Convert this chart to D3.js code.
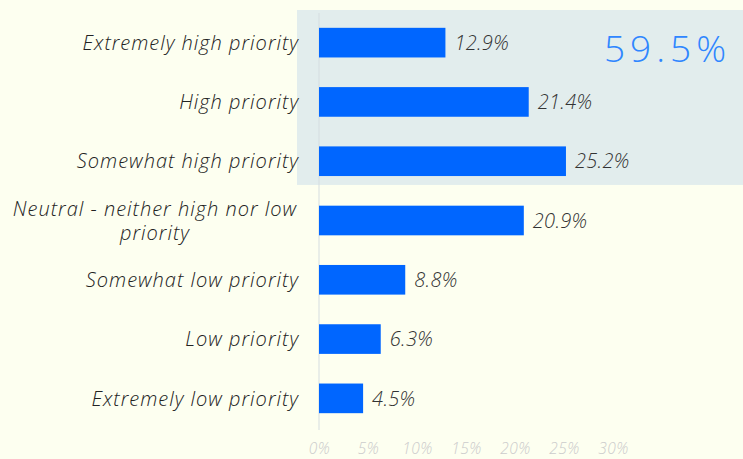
<!DOCTYPE html>
<html>
<head>
<meta charset="utf-8">
<script src="https://cdn.jsdelivr.net/npm/d3@7"></script>
<style>
  html, body { margin: 0; padding: 0; background: #fdfff0; }
  svg { display: block; }
</style>
</head>
<body>
<div class="chart"></div>
<script>
// answers, top to bottom
var categories = [
    'Extremely high priority',
    'High priority',
    'Somewhat high priority',
    'Neutral - neither high nor low priority',
    'Somewhat low priority',
    'Low priority',
    'Extremely low priority'
];
var shares = [ 12.9 , 21.4 , 25.2 , 20.9 , 8.8 , 6.3 , 4.5 ];
var tickValues = [ 0 , 5 , 10 , 15 , 20 , 25 , 30 ];
var highlightCount = 3;
var highlightLabel = '59.5%';

var width = 743, height = 459;
var font = '"Open Sans", sans-serif';

var svg = d3.select( '.chart' )
    .append( 'svg' )
    .attr( 'width' , width )
    .attr( 'height' , height );

var x = d3.scaleLinear().domain( [ 0 , 30 ] ).range( [ 319 , 613 ] );
var y = d3.scaleBand().domain( categories ).range( [ 13 , 428 ] ).paddingInner( 0.5 ).paddingOuter( 0.25 );

// shaded box behind the "high" answers
var boxTop = y( categories[ 0 ] ) - y.step() * 0.3;
var boxBottom = y( categories[ highlightCount - 1 ] ) + y.bandwidth() + y.step() * 0.15;
svg.append( 'rect' )
    .attr( 'x' , 297 )
    .attr( 'y' , boxTop )
    .attr( 'width' , width - 297 )
    .attr( 'height' , boxBottom - boxTop )
    .attr( 'fill' , '#e2eded' );

// vertical baseline
svg.append( 'line' )
    .attr( 'x1' , x( 0 ) ).attr( 'x2' , x( 0 ) )
    .attr( 'y1' , 13 ).attr( 'y2' , 430 )
    .attr( 'stroke' , '#d5dde0' )
    .attr( 'stroke-width' , 1 );

svg.selectAll( '.bar' )
    .data( shares )
    .enter()
        .append( 'rect' )
        .attr( 'class' , 'bar' )
        .attr( 'x' , x( 0 ) )
        .attr( 'y' , function( d , i ){ return y( categories[ i ] ) })
        .attr( 'width' , function( d ){ return x( d ) - x( 0 ) })
        .attr( 'height' , y.bandwidth() )
        .attr( 'fill' , '#0066ff' );

svg.selectAll( '.val' )
    .data( shares )
    .enter()
        .append( 'text' )
        .attr( 'class' , 'val' )
        .attr( 'x' , function( d ){ return x( d ) + 9 })
        .attr( 'y' , function( d , i ){ return y( categories[ i ] ) + y.bandwidth() / 2 })
        .attr( 'dy' , '0.36em' )
        .style( 'font-family' , font )
        .style( 'font-style' , 'italic' )
        .style( 'font-weight' , 300 )
        .style( 'font-size' , '20px' )
        .style( 'letter-spacing' , '0.3px' )
        .attr( 'fill' , '#333' )
        .text( function( d ){ return d.toFixed( 1 ) + '%' });

// category labels, long ones wrap on two lines
var labels = svg.selectAll( '.cat' )
    .data( categories )
    .enter()
        .append( 'text' )
        .attr( 'class' , 'cat' )
        .attr( 'y' , function( d ){ return y( d ) + y.bandwidth() / 2 })
        .style( 'font-family' , font )
        .style( 'font-style' , 'italic' )
        .style( 'font-weight' , 300 )
        .style( 'font-size' , '20px' )
        .style( 'letter-spacing' , '1px' )
        .attr( 'fill' , '#222' );

labels.each( function( d ){
    var t = d3.select( this );
    if ( d.length > 30 ) {
        t.attr( 'text-anchor' , 'middle' );
        t.append( 'tspan' ).attr( 'x' , 155 ).attr( 'dy' , '-0.22em' ).text( 'Neutral - neither high nor low' );
        t.append( 'tspan' ).attr( 'x' , 155 ).attr( 'dy' , '1.2em' ).text( 'priority' );
    } else {
        t.attr( 'text-anchor' , 'end' ).attr( 'x' , 299 ).attr( 'dy' , '0.36em' ).text( d );
    }
});

// x axis tick labels only
var axis = svg.append( 'g' )
    .attr( 'transform' , 'translate(0,' + 440 + ')' )
    .call( d3.axisBottom( x ).tickValues( tickValues ).tickSize( 0 ).tickFormat( function( d ){ return d + '%' }) );
axis.select( '.domain' ).remove();
axis.selectAll( 'text' )
    .style( 'font-family' , font )
    .style( 'font-style' , 'italic' )
    .style( 'font-weight' , 300 )
    .style( 'font-size' , '15.5px' )
    .style( 'letter-spacing' , '0.4px' )
    .attr( 'fill' , '#cccccc' );

svg.append( 'text' )
    .attr( 'x' , 731 )
    .attr( 'y' , 62 )
    .attr( 'text-anchor' , 'end' )
    .style( 'font-family' , font )
    .style( 'font-weight' , 300 )
    .style( 'font-size' , '37px' )
    .style( 'letter-spacing' , '5px' )
    .attr( 'fill' , '#2f86ff' )
    .text( highlightLabel );
</script>
</body>
</html>
